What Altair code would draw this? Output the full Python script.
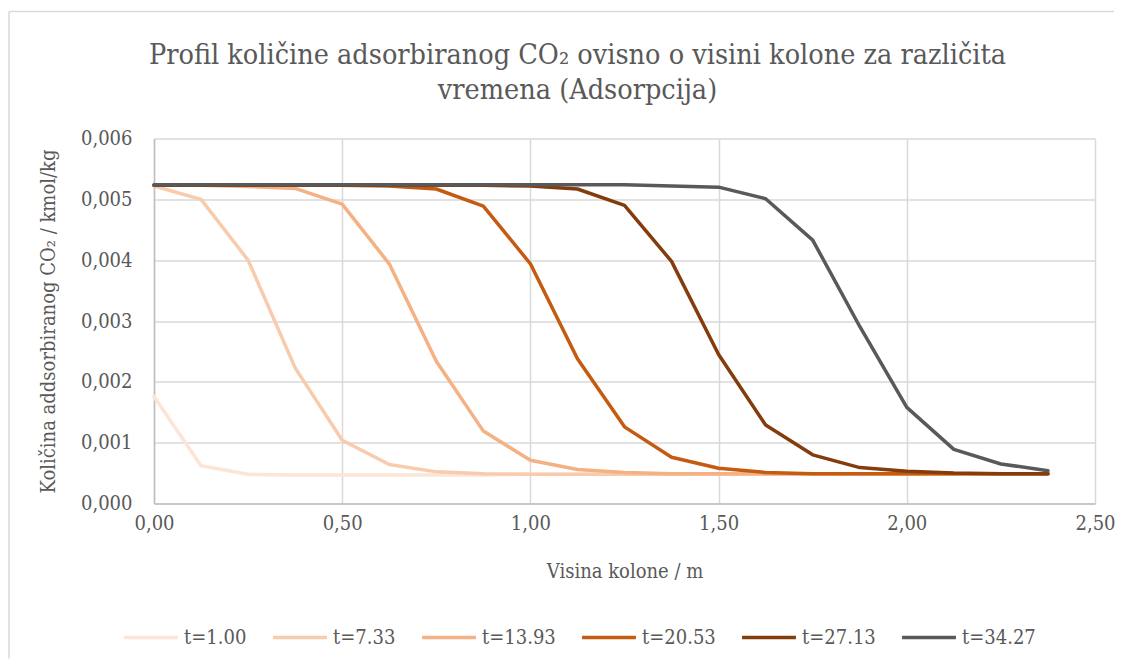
import altair as alt
import pandas as pd

x_vals = [0.0, 0.125, 0.25, 0.375, 0.5, 0.625, 0.75, 0.875, 1.0, 1.125,
          1.25, 1.375, 1.5, 1.625, 1.75, 1.875, 2.0, 2.125, 2.25, 2.375]

labels = ["t=1.00", "t=7.33", "t=13.93", "t=20.53", "t=27.13", "t=34.27"]
colors = ["#FBE5D6", "#F8CBAD", "#F4B183", "#C55A11", "#843C0C", "#595959"]

# values in 1e-3 kmol/kg
s_1 = [1.76, 0.62, 0.48, 0.47, 0.47, 0.47, 0.47, 0.47, 0.48, 0.48,
       0.48, 0.48, 0.48, 0.48, 0.48, 0.48, 0.48, 0.48, 0.48, 0.48]
s_7 = [5.22, 5.00, 4.00, 2.23, 1.04, 0.64, 0.52, 0.49, 0.48, 0.48,
       0.48, 0.48, 0.48, 0.48, 0.48, 0.48, 0.48, 0.48, 0.48, 0.48]
s_13 = [5.23, 5.23, 5.21, 5.18, 4.92, 3.94, 2.34, 1.19, 0.71, 0.56,
        0.51, 0.49, 0.49, 0.49, 0.49, 0.49, 0.49, 0.49, 0.49, 0.49]
s_20 = [5.23, 5.23, 5.23, 5.23, 5.23, 5.22, 5.17, 4.89, 3.94, 2.38,
        1.26, 0.76, 0.58, 0.51, 0.49, 0.49, 0.49, 0.49, 0.49, 0.49]
s_27 = [5.23, 5.23, 5.23, 5.23, 5.23, 5.23, 5.23, 5.23, 5.22, 5.17,
        4.90, 3.98, 2.45, 1.29, 0.80, 0.59, 0.53, 0.50, 0.49, 0.49]
s_34 = [5.24, 5.24, 5.24, 5.24, 5.24, 5.24, 5.24, 5.24, 5.24, 5.24,
        5.24, 5.22, 5.20, 5.01, 4.33, 2.91, 1.58, 0.89, 0.65, 0.54]

series = [s_1, s_7, s_13, s_20, s_27, s_34]

rows = []
for i, (lab, vals) in enumerate(zip(labels, series)):
    for x, v in zip(x_vals, vals):
        rows.append({"x": x, "y": v / 1000.0, "serie": lab, "k": i})
df = pd.DataFrame(rows)

FONT = "DejaVu Serif Condensed, DejaVu Serif"
GREY = "#595959"

# chart-area frame (decoration, like the Excel chart border): top and left edges
one = pd.DataFrame({"a": [0]})
frame_top = alt.Chart(one).mark_rule(stroke="#D9D9D9", strokeWidth=1.5, clip=False).encode(
    x=alt.value(-145), x2=alt.value(960), y=alt.value(-127))
frame_left = alt.Chart(one).mark_rule(stroke="#D9D9D9", strokeWidth=1.5, clip=False).encode(
    x=alt.value(-145), y=alt.value(-127), y2=alt.value(520))

lines = alt.Chart(df).mark_line(strokeWidth=3.5, strokeCap="round", strokeJoin="round").encode(
    x=alt.X("x:Q",
            scale=alt.Scale(domain=[0, 2.5], nice=False, zero=False),
            axis=alt.Axis(values=[0, 0.5, 1.0, 1.5, 2.0, 2.5],
                          labelExpr="replace(format(datum.value, '.2f'), '.', ',')",
                          title="Visina kolone / m", labelFlush=False,
                          titlePadding=28, labelPadding=10)),
    y=alt.Y("y:Q",
            scale=alt.Scale(domain=[0, 0.006], nice=False),
            axis=alt.Axis(values=[0, 0.001, 0.002, 0.003, 0.004, 0.005, 0.006],
                          labelExpr="replace(format(datum.value, '.3f'), '.', ',')",
                          title="Količina addsorbiranog CO₂ / kmol/kg", labelFlush=False,
                          titlePadding=22, labelPadding=22)),
    color=alt.Color("serie:N",
                    scale=alt.Scale(domain=labels, range=colors),
                    legend=alt.Legend(title=None, orient="none", direction="horizontal",
                                      legendX=-32, legendY=470,
                                      symbolType="stroke", symbolSize=2900,
                                      symbolStrokeWidth=3.5, columnPadding=19,
                                      labelFont=FONT, labelFontSize=20,
                                      labelColor=GREY, labelOffset=4)),
    order=alt.Order("x:Q"),
    detail="k:N",
)

chart = alt.layer(frame_top, frame_left, lines).properties(
    width=941,
    height=365,
    title=alt.TitleParams(
        text=["Profil količine adsorbiranog CO₂ ovisno o visini kolone za različita",
              "vremena (Adsorpcija)"],
        font=FONT, fontSize=28.5, fontWeight="normal", color=GREY,
        anchor="middle", dx=-47, offset=-94, lineHeight=35,
    ),
    autosize=alt.AutoSizeParams(type="none"),
    padding={"left": 146, "top": 130.5, "right": 30, "bottom": 160},
).configure_axis(
    labelFont=FONT, labelFontSize=20, labelColor=GREY,
    titleFont=FONT, titleFontSize=20, titleColor=GREY, titleFontWeight="normal",
    gridColor="#D9D9D9", gridWidth=1.5, domainColor="#BFBFBF", domainWidth=1.5,
    ticks=False,
).configure_view(stroke=None)

chart.save("out.html", embed_options={"renderer": "svg", "actions": False})
